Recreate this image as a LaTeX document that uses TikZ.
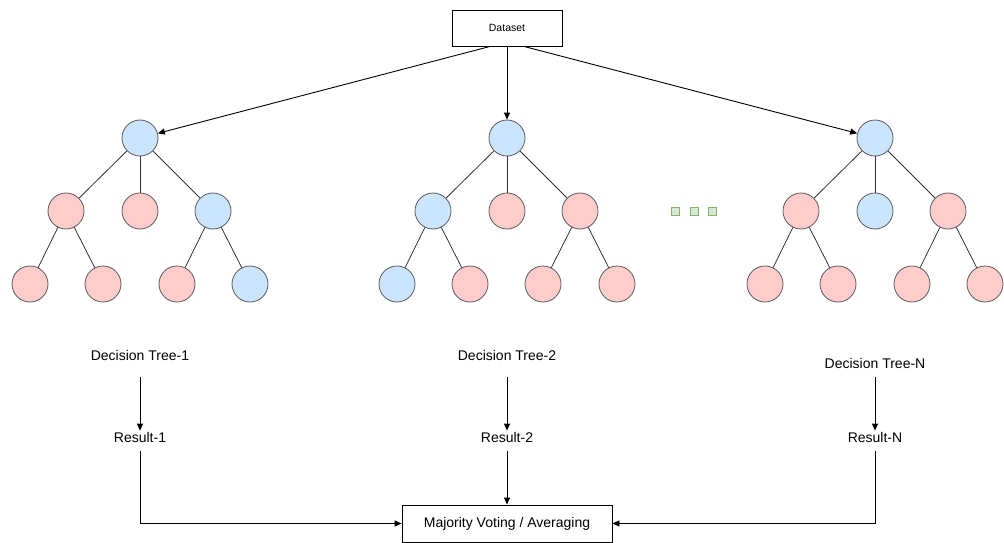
\documentclass[tikz,border=0pt]{standalone}
\usepackage{fontspec}
\setmainfont{Liberation Sans}
\usetikzlibrary{arrows.meta,calc}
\definecolor{nodeblue}{HTML}{CCE5FF}
\definecolor{nodepink}{HTML}{FFCCCC}
\definecolor{nodeline}{HTML}{5A5A5A}
\definecolor{dotfill}{HTML}{D5E8D4}
\definecolor{dotline}{HTML}{82B366}
\begin{document}
\begin{tikzpicture}[x=1pt,y=-1pt,
  leaf/.style={circle,draw=nodeline,line width=0.8pt,minimum size=36pt,inner sep=0pt},
  bleaf/.style={leaf,fill=nodeblue},
  pleaf/.style={leaf,fill=nodepink},
  edge/.style={draw=black!80,line width=0.8pt},
  arr/.style={draw=black,line width=0.9pt,-{Triangle[length=7pt,width=6pt]}},
  lbl/.style={font=\fontsize{14}{16}\selectfont,inner sep=1pt},
  box/.style={draw,line width=0.9pt,fill=white},
  dot/.style={draw=dotline,fill=dotfill,line width=0.9pt,minimum size=8pt,inner sep=0pt}]
\useasboundingbox (0,0) rectangle (1004,543);

% source
\node[box,minimum width=110pt,minimum height=36pt,font=\fontsize{10.5}{12}\selectfont] (ds) at (507,28) {Dataset};

% tree 1
\node[bleaf] (a0) at (140,138) {};
\node[pleaf] (a1) at (66,211) {};
\node[pleaf] (a2) at (140,211) {};
\node[bleaf] (a3) at (213,211) {};
\node[pleaf] (a4) at (30,284) {};
\node[pleaf] (a5) at (103,284) {};
\node[pleaf] (a6) at (177,284) {};
\node[bleaf] (a7) at (250,284) {};

% tree 2
\node[bleaf] (b0) at (507,138) {};
\node[bleaf] (b1) at (433,211) {};
\node[pleaf] (b2) at (507,211) {};
\node[pleaf] (b3) at (580,211) {};
\node[bleaf] (b4) at (397,284) {};
\node[pleaf] (b5) at (470,284) {};
\node[pleaf] (b6) at (543,284) {};
\node[pleaf] (b7) at (617,284) {};

% tree N
\node[bleaf] (c0) at (875,138) {};
\node[pleaf] (c1) at (801,211) {};
\node[bleaf] (c2) at (875,211) {};
\node[pleaf] (c3) at (948,211) {};
\node[pleaf] (c4) at (765,284) {};
\node[pleaf] (c5) at (838,284) {};
\node[pleaf] (c6) at (912,284) {};
\node[pleaf] (c7) at (985,284) {};

\foreach \t in {a,b,c}{
  \draw[edge] (\t0) -- (\t1);
  \draw[edge] (\t0) -- (\t2);
  \draw[edge] (\t0) -- (\t3);
  \draw[edge] (\t1) -- (\t4);
  \draw[edge] (\t1) -- (\t5);
  \draw[edge] (\t3) -- (\t6);
  \draw[edge] (\t3) -- (\t7);
}

% ellipsis between trees
\node[dot] (d1) at (675,211) {};
\node[dot] (d2) at (694,211) {};
\node[dot] (d3) at (712,211) {};

% dataset fan-out
\coordinate (dsl) at ($(ds.south)+(-17,0)$);
\coordinate (dsr) at ($(ds.south)+(17,0)$);
\draw[arr] (dsl) -- (a0);
\draw[arr] (ds) -- (b0);
\draw[arr] (dsr) -- (c0);

% labels and results
\node[lbl] (t1) at (140,355) {Decision Tree-1};
\node[lbl] (t2) at (507,355) {Decision Tree-2};
\node[lbl] (t3) at (875,363) {Decision Tree-N};
\node[lbl] (r1) at (140,437) {Result-1};
\node[lbl] (r2) at (507,437) {Result-2};
\node[lbl] (r3) at (875,437) {Result-N};

\coordinate (s1) at (140,377);
\coordinate (s2) at (507,377);
\coordinate (s3) at (875,377);
\draw[arr] (s1) -- (r1.north);
\draw[arr] (s2) -- (r2.north);
\draw[arr] (s3) -- (r3.north);

% aggregation
\node[box,minimum width=210pt,minimum height=37pt,font=\fontsize{14}{16}\selectfont] (mv) at (507,523.5) {Majority Voting / Averaging};
\draw[arr] (r2.south) ++(0,8) -- (mv.north);
\draw[arr] (r1.south) ++(0,8) |- (mv.west);
\draw[arr] (r3.south) ++(0,8) |- (mv.east);
\end{tikzpicture}
\end{document}
